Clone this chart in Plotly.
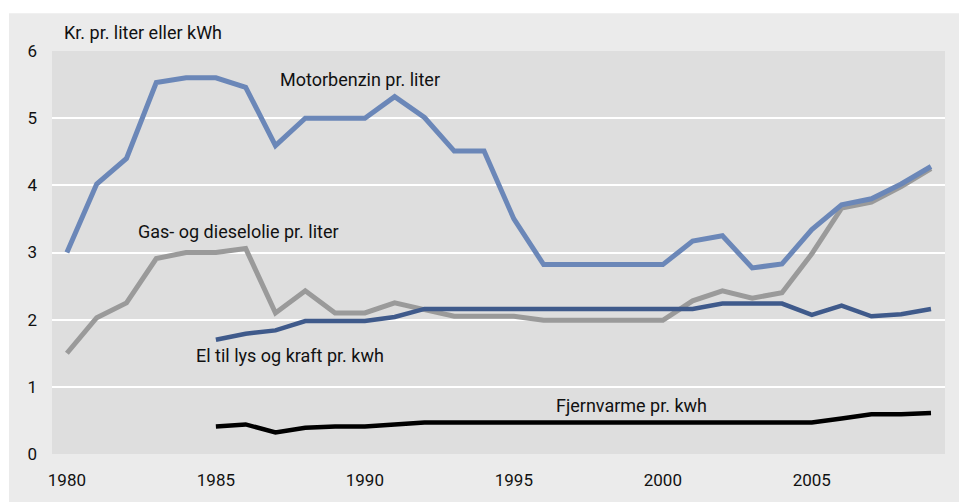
import plotly.graph_objects as go

years = list(range(1980, 2010))
years_el = list(range(1985, 2010))

motorbenzin = [3.0, 4.02, 4.4, 5.53, 5.6, 5.6, 5.46, 4.59, 5.0, 5.0,
               5.0, 5.32, 5.01, 4.51, 4.51, 3.5, 2.82, 2.82, 2.82, 2.82,
               2.82, 3.17, 3.25, 2.77, 2.83, 3.34, 3.71, 3.8, 4.02, 4.28]
gasolie = [1.5, 2.03, 2.25, 2.91, 3.0, 3.0, 3.06, 2.1, 2.43, 2.1,
           2.1, 2.25, 2.15, 2.05, 2.05, 2.05, 1.99, 1.99, 1.99, 1.99,
           1.99, 2.28, 2.43, 2.32, 2.4, 2.98, 3.66, 3.75, 3.98, 4.25]
el = [1.7, 1.79, 1.84, 1.98, 1.98, 1.98, 2.04, 2.16, 2.16, 2.16,
      2.16, 2.16, 2.16, 2.16, 2.16, 2.16, 2.16, 2.24, 2.24, 2.24,
      2.07, 2.21, 2.05, 2.08, 2.16]
fjernvarme = [0.41, 0.44, 0.32, 0.39, 0.41, 0.41, 0.44, 0.47, 0.47, 0.47,
              0.47, 0.47, 0.47, 0.47, 0.47, 0.47, 0.47, 0.47, 0.47, 0.47,
              0.47, 0.53, 0.59, 0.59, 0.61]

font = "Roboto"

fig = go.Figure()
fig.add_trace(go.Scatter(x=years, y=gasolie, mode="lines",
                         line=dict(color="#9a9a9a", width=5)))
fig.add_trace(go.Scatter(x=years, y=motorbenzin, mode="lines",
                         line=dict(color="#6b87b8", width=5)))
fig.add_trace(go.Scatter(x=years_el, y=el, mode="lines",
                         line=dict(color="#3f5a8b", width=4.5)))
fig.add_trace(go.Scatter(x=years_el, y=fjernvarme, mode="lines",
                         line=dict(color="#000000", width=4.5)))

labels = [
    ("Motorbenzin pr. liter", 1989.85, 5.57),
    ("Gas- og dieselolie pr. liter", 1985.75, 3.32),
    ("El til lys og kraft pr. kwh", 1987.5, 1.46),
    ("Fjernvarme pr. kwh", 1998.95, 0.72),
]
for text, x, y in labels:
    fig.add_annotation(x=x, y=y, text=text, showarrow=False,
                       font=dict(size=18, color="#111111", family=font))

fig.add_annotation(xref="paper", yref="paper", x=0.011, y=1.0,
                   xanchor="left", yanchor="bottom", yshift=6,
                   text="Kr. pr. liter eller kWh", showarrow=False,
                   font=dict(size=18, color="#111111", family=font))

# white strips round the grey frame
fig.add_shape(type="rect", xref="paper", yref="paper", x0=-0.1, x1=1.1,
              y0=1 + 38 / 406, y1=1.2, fillcolor="white", line_width=0,
              layer="below")
fig.add_shape(type="rect", xref="paper", yref="paper", x0=-0.1, x1=-43 / 893,
              y0=-0.2, y1=1.2, fillcolor="white", line_width=0, layer="below")

fig.update_layout(
    width=959, height=502,
    margin=dict(l=52, r=14, t=51, b=45),
    paper_bgcolor="#ebebeb",
    plot_bgcolor="#dedede",
    showlegend=False,
    font=dict(family=font, size=17, color="#111111"),
    xaxis=dict(range=[1979.5, 2009.47], tickvals=[1980, 1985, 1990, 1995, 2000, 2005],
               showgrid=False, zeroline=False, showline=False,
               ticks="", ticklabelstandoff=14),
    yaxis=dict(range=[0, 6], dtick=1, gridcolor="white", gridwidth=2,
               zeroline=False, showline=False, ticks="", ticklabelstandoff=14),
)

fig.write_html("out.html", config={"displayModeBar": False},
               post_script="document.body.style.margin='0';")
